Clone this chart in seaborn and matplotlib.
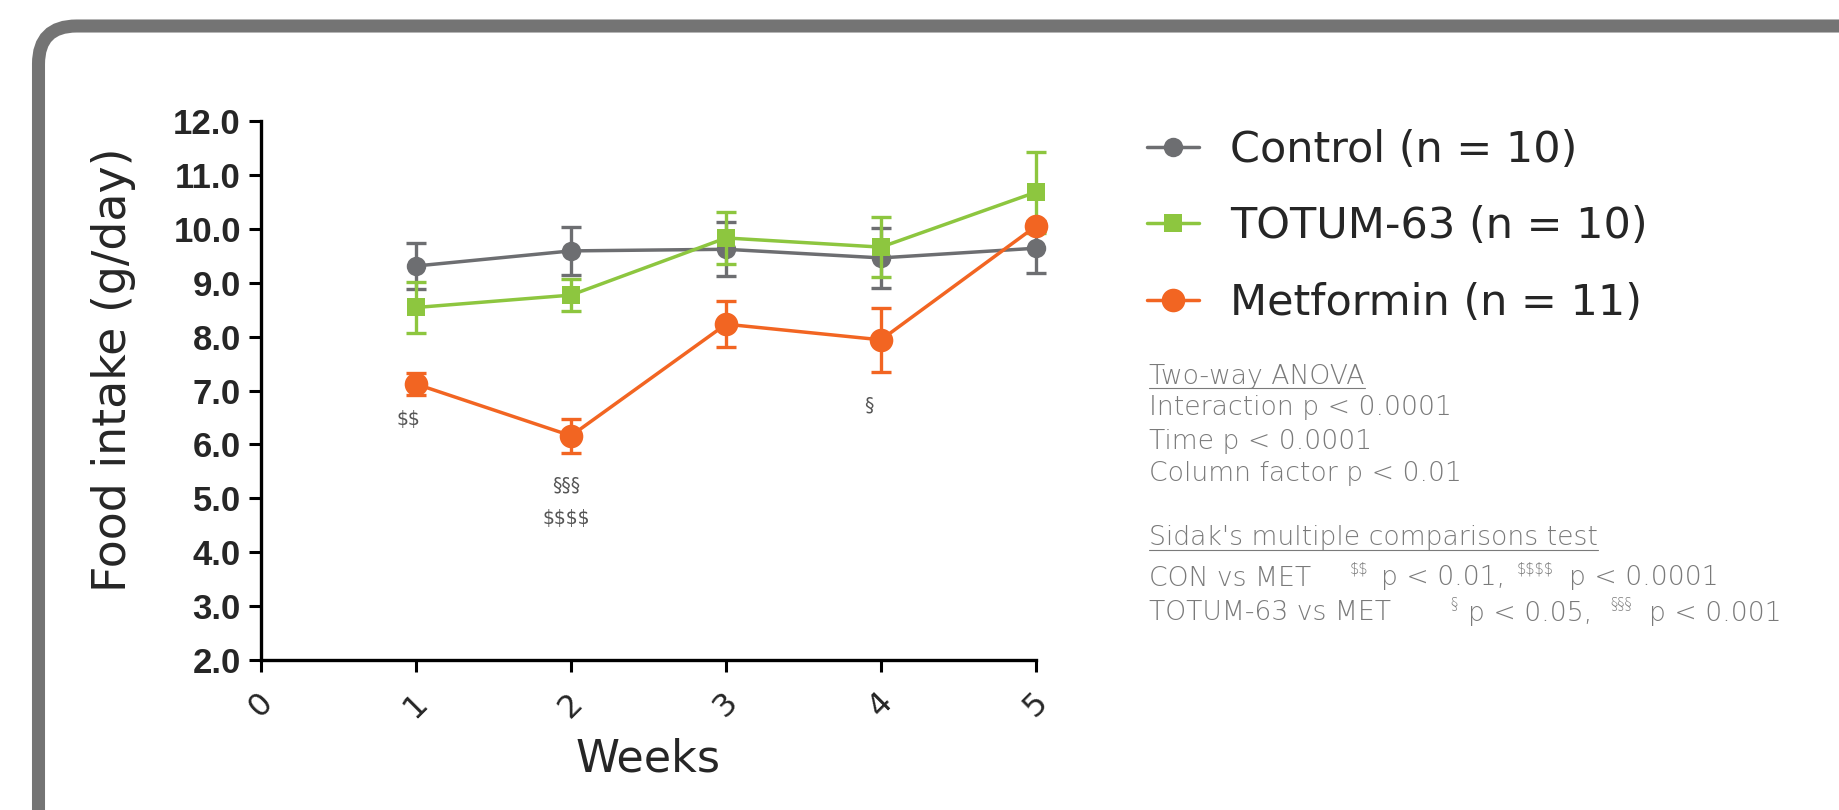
import numpy as np
import pandas as pd
import seaborn as sns
import matplotlib.pyplot as plt
from matplotlib.patches import FancyBboxPatch
from matplotlib.lines import Line2D
from matplotlib.transforms import IdentityTransform

# values (mean +/- error, g/day)
weeks = [1, 2, 3, 4, 5]
groups = ['Control (n = 10)', 'TOTUM-63 (n = 10)', 'Metformin (n = 11)']
control_mean = [9.31, 9.59, 9.62, 9.46, 9.64]
control_err = [0.42, 0.45, 0.50, 0.55, 0.46]
totum_mean = [8.54, 8.77, 9.83, 9.66, 10.68]
totum_err = [0.47, 0.30, 0.48, 0.55, 0.75]
metformin_mean = [7.12, 6.16, 8.23, 7.94, 10.05]
metformin_err = [0.20, 0.32, 0.43, 0.59, 0.10]

colors = ['#6d6e71', '#8dc63f', '#f26522']
markers = ['o', 's', 'o']
marker_sizes = [14, 13, 17]

y_ticks = [2, 3, 4, 5, 6, 7, 8, 9, 10, 11, 12]
x_ticks = [0, 1, 2, 3, 4, 5]

# significance marks: (text, week, y)
sig_marks = [('$$', 0.95, 6.46), ('§', 3.92, 6.74), ('§§§', 1.97, 5.24), ('$$$$', 1.97, 4.62)]

means = [control_mean, totum_mean, metformin_mean]
errs = [control_err, totum_err, metformin_err]

df = pd.DataFrame({
    'week': weeks * 3,
    'intake': control_mean + totum_mean + metformin_mean,
    'group': [g for g in groups for _ in weeks],
})

sns.set_style('ticks')
plt.rcParams['font.family'] = ['DejaVu Sans']
plt.rcParams['text.parse_math'] = False

W, H = 1839, 810
fig = plt.figure(figsize=(W / 100, H / 100), dpi=100)
ax = fig.add_axes([261 / W, (H - 660) / H, (1036 - 261) / W, (660 - 121) / H])

# rounded grey frame around the panel
frame = FancyBboxPatch((38.5, -60), W + 60 - 38.5, 784 + 60,
                       boxstyle='round,pad=0,rounding_size=38',
                       transform=IdentityTransform(), fill=False,
                       edgecolor='#747474', linewidth=9.4)
fig.add_artist(frame)

for g, e, c, mk, ms in zip(groups, errs, colors, markers, marker_sizes):
    sub = df[df['group'] == g]
    ax.errorbar(sub['week'], sub['intake'], yerr=e, fmt='none', ecolor=c, elinewidth=2.4,
                capsize=7, capthick=2.4, clip_on=False)
    sns.lineplot(data=sub, x='week', y='intake', color=c, marker=mk, markersize=ms,
                 markeredgewidth=0, linewidth=2.5, label=g, ax=ax)

for art in ax.lines + ax.collections:
    art.set_clip_on(False)

ax.set_xlim(0, 5)
ax.set_ylim(2, 12)
ax.set_xticks(x_ticks)
ax.set_yticks(y_ticks)
ax.set_yticklabels([f'{v:.1f}' for v in y_ticks], fontfamily='Liberation Sans',
                   fontweight='bold', fontsize=25)
ax.set_xticklabels([str(v) for v in x_ticks], rotation=45, ha='center', fontsize=23)
ax.tick_params(axis='both', width=2.2, length=8.5, color='black', direction='out')
ax.tick_params(axis='y', pad=6)
ax.tick_params(axis='x', pad=11)
for s in ['left', 'bottom']:
    ax.spines[s].set_linewidth(2.4)
    ax.spines[s].set_color('black')
sns.despine(ax=ax)

ax.set_ylabel('Food intake (g/day)', fontsize=33, va='center')
ax.yaxis.set_label_coords((114 - 261) / 775, (660 - 370) / 539)
ax.set_xlabel('Weeks', fontsize=32, va='center')
ax.xaxis.set_label_coords(0.5, (660 - 759) / 539)

for txt, x, y in sig_marks:
    ax.text(x, y, txt, ha='center', va='center', fontsize=13.5, color='#555555')

# legend
handles, labels = ax.get_legend_handles_labels()
for h, ms in zip(handles, marker_sizes):
    h.set_markersize(ms)
    h.set_linewidth(2.5)
leg = ax.legend(handles, labels, loc='upper left',
                bbox_to_anchor=(1147 / W, (H - 129) / H), bbox_transform=fig.transFigure,
                frameon=False, fontsize=31, borderpad=0, borderaxespad=0,
                handlelength=1.2, handletextpad=0.72, labelspacing=0.8)

# statistics text block
stat_color = '#7a7a7a'
fs = 19.2


def ftext(x, y, s, size=fs):
    return fig.text(x / W, (H - y) / H, s, va='center', ha='left', color=stat_color,
                    fontsize=size, fontweight='light')


header1 = ftext(1149, 376, 'Two-way ANOVA')
ftext(1149, 408, 'Interaction p < 0.0001')
ftext(1149, 441, 'Time p < 0.0001')
ftext(1149, 473, 'Column factor p < 0.01')
header2 = ftext(1149, 538, "Sidak's multiple comparisons test")

ftext(1149, 578, 'CON vs MET')
ftext(1350, 569, '$$', 10.5)
ftext(1381, 578, 'p < 0.01,')
ftext(1517, 569, '$$$$', 10.5)
ftext(1569, 578, 'p < 0.0001')

ftext(1149, 613, 'TOTUM-63 vs MET')
ftext(1450, 604, '§', 10.5)
ftext(1468, 613, 'p < 0.05,')
ftext(1610, 604, '§§§', 10.5)
ftext(1649, 613, 'p < 0.001')

fig.canvas.draw()
r = fig.canvas.get_renderer()
for t in [header1, header2]:
    bb = t.get_window_extent(r)
    fig.add_artist(Line2D([bb.x0, bb.x1], [bb.y0 + 1, bb.y0 + 1], transform=IdentityTransform(),
                          color=stat_color, linewidth=0.8))

fig.savefig('out.png', dpi=100)
